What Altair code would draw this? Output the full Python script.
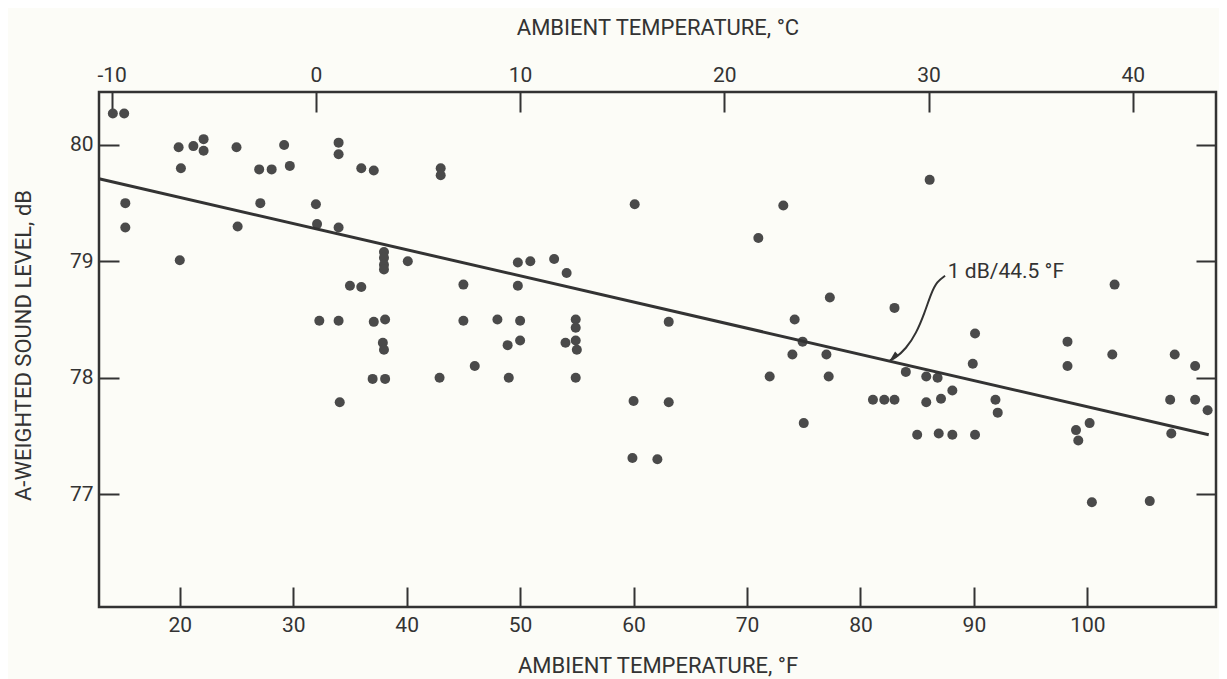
import altair as alt
import pandas as pd

# ---- data ----
temp_f = [
    14.1, 15.1, 15.2, 15.2,
    19.9, 20.1, 20.0, 21.2, 22.1, 22.1,
    25.0, 25.1, 27.0, 27.1, 28.1, 29.2, 29.7,
    32.0, 32.1, 32.3,
    34.0, 34.0, 34.0, 34.0, 34.1,
    35.0, 36.0, 36.0, 37.1, 37.1, 37.0,
    38.0, 38.0, 38.0, 38.0, 38.1, 37.9, 38.0, 38.1,
    40.1,
    43.0, 43.0, 60.1,
    45.0, 49.8, 50.9, 53.0, 54.1, 49.8,
    45.0, 48.0, 50.0, 54.9, 54.9, 63.1,
    48.9, 50.0, 54.0, 54.9, 55.0,
    46.0, 42.9, 49.0, 54.9,
    60.0, 63.1, 59.9, 62.1,
    86.1, 73.2, 71.0, 77.3, 83.0, 74.2,
    90.1, 74.9, 74.0, 77.0, 72.0, 77.2,
    89.9, 84.0, 85.8, 86.8, 88.1,
    81.1, 82.1, 83.0, 85.8, 87.1,
    91.9, 92.1, 75.0,
    85.0, 86.9, 88.1, 90.1,
    102.4, 98.25, 98.25, 102.2, 100.2, 99.0, 99.2, 100.4, 105.5,
    107.7, 109.5, 107.3, 109.5, 110.6, 107.4,
]
level_db = [
    80.27, 80.27, 79.50, 79.29,
    79.98, 79.80, 79.01, 79.99, 80.05, 79.95,
    79.98, 79.30, 79.79, 79.50, 79.79, 80.00, 79.82,
    79.49, 79.32, 78.49,
    80.02, 79.92, 79.29, 78.49, 77.79,
    78.79, 78.78, 79.80, 79.78, 78.48, 77.99,
    79.08, 79.03, 78.97, 78.93, 78.50, 78.30, 78.24, 77.99,
    79.00,
    79.80, 79.74, 79.49,
    78.80, 78.99, 79.00, 79.02, 78.90, 78.79,
    78.49, 78.50, 78.49, 78.50, 78.43, 78.48,
    78.28, 78.32, 78.30, 78.32, 78.24,
    78.10, 78.00, 78.00, 78.00,
    77.80, 77.79, 77.31, 77.30,
    79.70, 79.48, 79.20, 78.69, 78.60, 78.50,
    78.38, 78.31, 78.20, 78.20, 78.01, 78.01,
    78.12, 78.05, 78.01, 78.00, 77.89,
    77.81, 77.81, 77.81, 77.79, 77.82,
    77.81, 77.70, 77.61,
    77.51, 77.52, 77.51, 77.51,
    78.80, 78.31, 78.10, 78.20, 77.61, 77.55, 77.46, 76.93, 76.94,
    78.20, 78.10, 77.81, 77.81, 77.72, 77.52,
]

# fitted line (1 dB / 44.5 F)
fit_f = [12.88, 110.7]
fit_db = [79.71, 77.51]

# annotation arrow path and label
arrow_f = [87.46, 86.75, 86.23, 85.64, 84.91, 84.03, 83.01, 82.6]
arrow_db = [78.876, 78.827, 78.726, 78.553, 78.38, 78.25, 78.164, 78.15]
label_f = [87.7]
label_db = [78.91]
label_text = ["1 dB/44.5 \u00b0F"]

# axes
f_ticks = [20, 30, 40, 50, 60, 70, 80, 90, 100]
c_ticks = [-10, 0, 10, 20, 30, 40]
db_ticks = [77, 78, 79, 80]
x_domain = [12.88, 111.34]
y_domain = [76.03, 80.455]

c_as_f = [c * 1.8 + 32 for c in c_ticks]

FONT = "Roboto"
INK = "#333333"
DOT = "#4a4a4a"

xs = alt.Scale(domain=x_domain, nice=False, zero=False)
ys = alt.Scale(domain=y_domain, nice=False, zero=False)


def label_axis(**kw):
    base = dict(domain=False, grid=False, ticks=False, tickSize=0,
                labelFont=FONT, labelFontSize=21, labelColor=INK,
                labelFlush=False, labelOverlap=False, labelBound=False,
                titleFont=FONT, titleFontSize=22, titleColor=INK,
                titleFontWeight="normal")
    base.update(kw)
    return alt.Axis(**base)


def tick_axis(**kw):
    base = dict(domain=False, grid=False, ticks=True, tickSize=20,
                tickWidth=2, tickColor=INK, labels=False, title=None,
                offset=-20)
    base.update(kw)
    return alt.Axis(**base)


pts = pd.DataFrame({"f": temp_f, "db": level_db})
fit = pd.DataFrame({"f": fit_f, "db": fit_db})
arr = pd.DataFrame({"f": arrow_f, "db": arrow_db, "o": list(range(len(arrow_f)))})
tip = pd.DataFrame({"f": arrow_f[-1:], "db": arrow_db[-1:]})
lab = pd.DataFrame({"f": label_f, "db": label_db, "t": label_text})

points = alt.Chart(pts).mark_circle(size=100, color=DOT, opacity=1).encode(
    x=alt.X("f:Q", scale=xs, axis=label_axis(
        orient="bottom", values=f_ticks, labelPadding=24,
        labelBaseline="alphabetic", title="AMBIENT TEMPERATURE, \u00b0F",
        titleBaseline="alphabetic", titleY=65)),
    y=alt.Y("db:Q", scale=ys, axis=label_axis(
        orient="left", values=db_ticks, labelPadding=6,
        title="A-WEIGHTED SOUND LEVEL, dB", titleAngle=270,
        titleBaseline="alphabetic", titleAlign="center",
        titleX=-69, titleY=253)),
)

fit_line = alt.Chart(fit).mark_line(color=INK, strokeWidth=3).encode(
    x=alt.X("f:Q", scale=xs, axis=label_axis(
        orient="top", values=c_as_f,
        labelExpr="toString(round((datum.value - 32) / 1.8))",
        labelPadding=11, labelBaseline="alphabetic",
        title="AMBIENT TEMPERATURE, \u00b0C",
        titleBaseline="alphabetic", titleY=-58)),
    y=alt.Y("db:Q", scale=ys, axis=tick_axis(orient="right", values=db_ticks)),
)

arrow = alt.Chart(arr).mark_line(color=INK, strokeWidth=2, interpolate="basis").encode(
    x=alt.X("f:Q", scale=xs, axis=tick_axis(orient="bottom", values=f_ticks)),
    y=alt.Y("db:Q", scale=ys, axis=tick_axis(orient="left", values=db_ticks)),
    order="o:Q",
)

head = alt.Chart(tip).mark_point(
    shape="M0,0 L-0.3,-1 L0.3,-1 Z", filled=True, size=380, angle=47,
    color=INK, opacity=1,
).encode(
    x=alt.X("f:Q", scale=xs, axis=tick_axis(orient="top", values=c_as_f)),
    y=alt.Y("db:Q", scale=ys, axis=None),
)

text = alt.Chart(lab).mark_text(
    align="left", baseline="middle", font=FONT, fontSize=21, color=INK,
).encode(
    x=alt.X("f:Q", scale=xs, axis=None),
    y=alt.Y("db:Q", scale=ys, axis=None),
    text="t:N",
)

chart = (
    alt.layer(points, fit_line, arrow, head, text)
    .resolve_axis(x="independent", y="independent")
    .properties(
        width=1117, height=515,
        autosize=alt.AutoSizeParams(type="none"),
        padding={"left": 91, "top": 84, "right": 3, "bottom": 72},
        background="#fcfcf7",
    )
    .configure_view(stroke=INK, strokeWidth=2.5)
)

chart.save("out.html", embed_options={"renderer": "svg", "actions": False})
